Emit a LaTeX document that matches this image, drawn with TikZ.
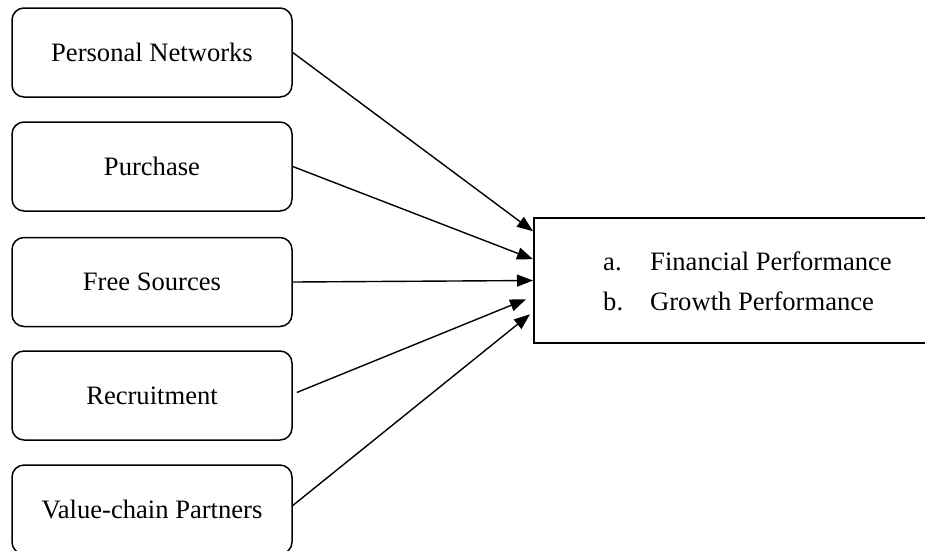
\documentclass[tikz,border=0pt]{standalone}
\usepackage{fontspec}
\setmainfont{Liberation Serif}
\usetikzlibrary{arrows.meta,calc}

\begin{document}
\begin{tikzpicture}[x=1pt,y=-1pt,
  every node/.style={font=\fontsize{26.6}{40}\selectfont},
  srcbox/.style={draw,line width=1.5pt,rounded corners=12pt,
    minimum width=280pt,minimum height=89pt,inner sep=0pt},
  outbox/.style={draw,line width=1.5pt,minimum width=420pt,
    minimum height=125pt,inner sep=0pt,anchor=west},
  link/.style={line width=1.4pt,-{Triangle[length=16pt,width=12pt]}}]

  \useasboundingbox (0,0) rectangle (925,550);

  % source boxes on the left
  \node[srcbox] (pn) at (152,52.5)  {Personal Networks};
  \node[srcbox] (pu) at (152,166.5) {Purchase};
  \node[srcbox] (fs) at (152,282)   {Free Sources};
  \node[srcbox] (re) at (152,395.5) {Recruitment};
  \node[srcbox] (vc) at (152,509.5) {Value-chain Partners};

  % outcome box on the right
  \node[outbox] (fp) at (533,280.5) {};
  \node[anchor=base west,inner sep=0pt] (lst) at (603,270)
    {\begin{tabular}[t]{@{}l@{}}
       \makebox[47pt][l]{a.}Financial Performance\\
       \makebox[47pt][l]{b.}Growth Performance
     \end{tabular}};

  % arrow targets on the left side of the outcome box
  \coordinate (t1) at ($(fp.north west)+(0,14)$);
  \coordinate (t2) at ($(fp.north west)+(0,42)$);
  \coordinate (t3) at (fp.west);
  \coordinate (t4) at ($(fp.north west)+(-7,82)$);
  \coordinate (t5) at ($(fp.north west)+(-3,97)$);

  \draw[link] (pn.east) -- (t1);
  \draw[link] (pu.east) -- (t2);
  \draw[link] (fs.east) -- (t3);
  \draw[link] ($(re.east)+(4,-3)$) -- (t4);
  \draw[link] ($(vc.east)+(0,-4)$) -- (t5);
\end{tikzpicture}
\end{document}
